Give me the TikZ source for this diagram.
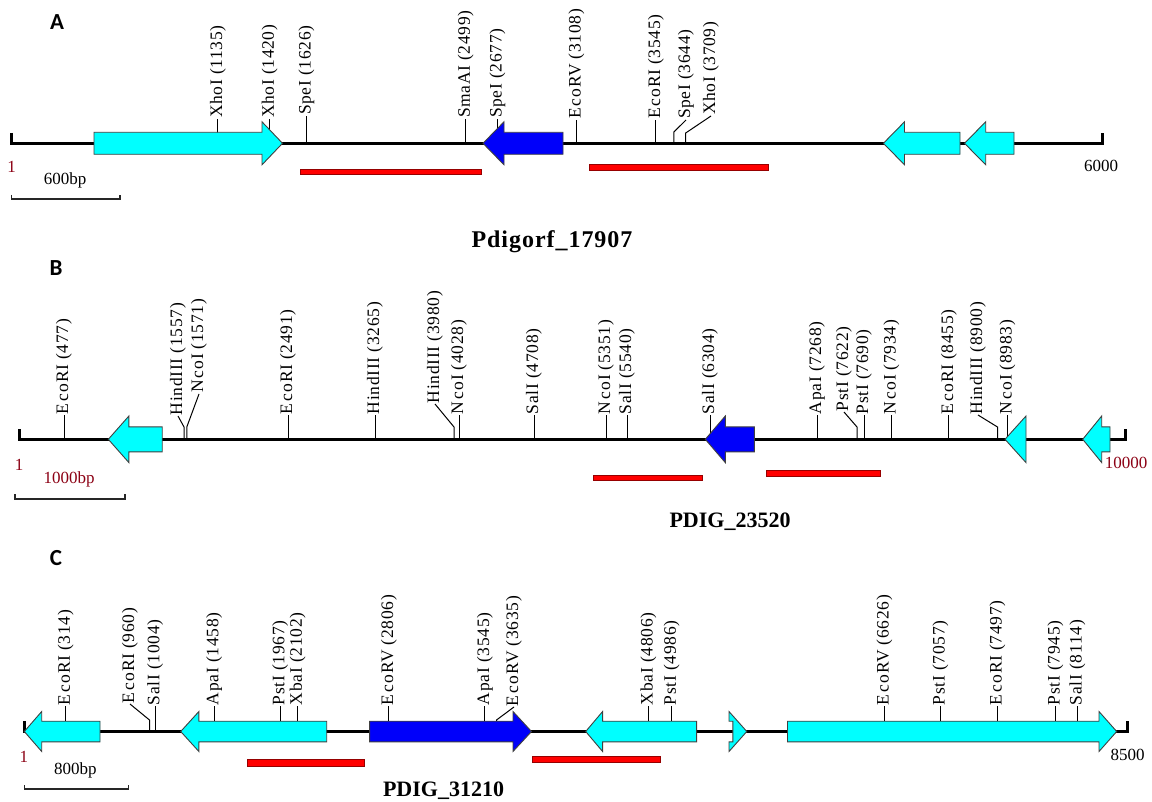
\documentclass[tikz,border=0pt]{standalone}
\usepackage{fontspec}
\setmainfont{Liberation Serif}
\newfontfamily\lbf[LetterSpace=4]{Liberation Serif}
\newfontfamily\ttlf[LetterSpace=4]{Liberation Serif}
\newfontfamily\pfont{Carlito}
\definecolor{gcyan}{RGB}{0,255,255}
\definecolor{gblue}{RGB}{0,0,250}
\definecolor{gred}{RGB}{255,0,0}
\definecolor{redline}{RGB}{150,0,0}
\definecolor{numred}{RGB}{140,0,20}
\newcommand\Eco{E\kern1.6pt c\kern1.6pt o}
\newcommand\Nco{N\kern1.6pt c\kern1.6pt o}
\tikzset{
  lab/.style={rotate=90, anchor=west, inner sep=0.8pt, font=\fontsize{17.5}{17.5}\selectfont\lbf},
  tick/.style={line width=1pt, black},
  backbone/.style={line width=2.6pt, black},
  gene/.style={draw=black!75, line width=0.9pt, line join=miter},
  bar/.style={draw=redline, fill=gred, line width=0.8pt},
  sbar/.style={line width=1.2pt, black!85},
  small/.style={font=\fontsize{17}{17}\selectfont, inner sep=0pt},
  title/.style={font=\fontsize{22}{22}\selectfont\bfseries, inner sep=0pt},
  panel/.style={font=\fontsize{23}{23}\selectfont\pfont\bfseries, inner sep=0pt}
}
\newcommand\geneR[7]{\draw[gene,fill=#1] (#2,{#5-#6}) -- (#3,{#5-#6}) -- (#3,{#5-#7}) -- (#4,#5) -- (#3,{#5+#7}) -- (#3,{#5+#6}) -- (#2,{#5+#6}) -- cycle;}
\newcommand\geneL[7]{\draw[gene,fill=#1] (#2,#5) -- (#3,{#5-#7}) -- (#3,{#5-#6}) -- (#4,{#5-#6}) -- (#4,{#5+#6}) -- (#3,{#5+#6}) -- (#3,{#5+#7}) -- cycle;}
\newcommand\rsite[7]{\node[lab] (#1) at (#5,#6) {#7};
  \draw[tick] (#2,#3) -- (#2,#4) -- (#1.west);}
\newcommand\srs[5]{\rsite{#1}{#2}{#3}{#4}{#2}{#4}{#5}}
\begin{document}
\begin{tikzpicture}[x=1pt,y=-1pt]
\fill[white] (0,0) rectangle (1152,802);
\useasboundingbox (0,0) rectangle (1152,802);

% ---------------- Panel A ----------------
\node[panel] (pA) at (57,22.5) {A};
\draw[backbone] (11.7,133) -- (11.7,143.3) -- (1102.3,143.3) -- (1102.3,133);
\srs{a1}{217.8}{143.3}{119}{XhoI (1135)}
\srs{a2}{269.6}{143.3}{119}{XhoI (1420)}
\srs{a3}{306.5}{143.3}{116}{SpeI (1626)}
\srs{a4}{465.7}{143.3}{119}{SmaAI (2499)}
\srs{a5}{497.5}{143.3}{119}{SpeI (2677)}
\srs{a6}{576.4}{143.3}{120}{\Eco RV (3108)}
\srs{a7}{655.9}{143.3}{120}{\Eco RI (3545)}
\rsite{a8}{673.9}{143.3}{132}{686}{120}{SpeI (3644)}
\rsite{a9}{685.7}{143.3}{133}{711}{116}{XhoI (3709)}
\geneR{gcyan}{94}{262}{282.5}{143.3}{11}{21.5}
\geneL{gblue}{483}{504}{563}{143.3}{11}{21.5}
\geneL{gcyan}{883.4}{904.5}{960}{143.3}{11}{21.5}
\geneL{gcyan}{964.5}{985.7}{1014}{143.3}{11}{21.5}
\draw[bar] (300,169) rectangle (481.5,174.7);
\draw[bar] (589,164.3) rectangle (768.3,170.7);
\node[small, text=numred] (oneA) at (11.5,166.7) {1};
\node[small] (endA) at (1101,165.7) {6000};
\node[small] (sA) at (65,180) {600bp};
\draw[sbar] (11.7,195) -- (11.7,199) -- (120,199) -- (120,195);
\node[title, font=\fontsize{24}{24}\selectfont\bfseries] (tA) at (552,242) {\ttlf Pdigorf\_17907};

% ---------------- Panel B ----------------
\node[panel] (pB) at (56,268) {B};
\draw[backbone] (19.3,429.3) -- (19.3,439.3) -- (1125.7,439.3) -- (1125.7,429.3);
\srs{b1}{64}{439.3}{415}{\Eco RI (477)}
\rsite{b2}{184}{439.3}{427}{178}{416}{HindIII (1557)}
\rsite{b3}{186.8}{439.3}{427}{199}{394}{\Nco I (1571)}
\srs{b4}{288}{439.3}{415}{\Eco RI (2491)}
\srs{b5}{375}{439.3}{415}{HindIII (3265)}
\rsite{b6}{454}{439.3}{427}{435}{404}{HindIII (3980)}
\srs{b7}{459}{439.3}{415}{\Nco I (4028)}
\srs{b8}{534}{439.3}{415}{SalI (4708)}
\srs{b9}{606}{439.3}{415}{\Nco I (5351)}
\srs{b10}{627}{439.3}{415}{SalI (5540)}
\srs{b11}{710}{439.3}{415}{SalI (6304)}
\srs{b12}{817}{439.3}{415}{ApaI (7268)}
\rsite{b13}{857}{439.3}{427}{844}{412}{PstI (7622)}
\srs{b14}{864}{439.3}{415}{PstI (7690)}
\srs{b15}{891.5}{439.3}{415}{\Nco I (7934)}
\srs{b16}{948.8}{439.3}{415}{\Eco RI (8455)}
\rsite{b17}{997.5}{439.3}{427}{978}{415}{HindIII (8900)}
\srs{b18}{1007.5}{439.3}{415}{\Nco I (8983)}
\geneL{gcyan}{108.3}{128.9}{162.2}{439.3}{12.5}{23.3}
\geneL{gblue}{705.3}{725.3}{754.3}{439.3}{12.5}{23.3}
\draw[gene,fill=gcyan] (1005,439.3) -- (1026,416) -- (1026,462.6) -- cycle;
\geneL{gcyan}{1082.7}{1101.7}{1110}{439.3}{12.5}{23.3}
\draw[bar] (593.2,475) rectangle (702.6,480.7);
\draw[bar] (766.8,470) rectangle (880.8,476);
\node[small, text=numred] (oneB) at (19,465) {1};
\node[small, text=numred] (endB) at (1126,463) {10000};
\node[small, text=numred] (sB) at (69,479) {1000bp};
\draw[sbar] (15,494) -- (15,499) -- (125,499) -- (125,494);
\node[title] (tB) at (730,522) {PDIG\_23520};

% ---------------- Panel C ----------------
\node[panel] (pC) at (56,558) {C};
\draw[backbone] (24.3,721) -- (24.3,731.5) -- (1127.7,731.5) -- (1127.7,721);
\srs{c1}{65.7}{731.5}{706}{\Eco RI (314)}
\rsite{c2}{149.5}{731.5}{720}{130}{704}{\Eco RI (960)}
\srs{c3}{155.2}{731.5}{706}{SalI (1004)}
\srs{c4}{214.1}{731.5}{706}{ApaI (1458)}
\srs{c5}{280.1}{731.5}{706}{PstI (1967)}
\srs{c6}{297.6}{731.5}{706}{XbaI (2102)}
\srs{c7}{388.9}{731.5}{706}{\Eco RV (2806)}
\srs{c8}{484.8}{731.5}{706}{ApaI (3545)}
\rsite{c9}{496.5}{731.5}{720}{514}{707}{\Eco RV (3635)}
\srs{c10}{648.3}{731.5}{706}{XbaI (4806)}
\srs{c11}{671.7}{731.5}{706}{PstI (4986)}
\srs{c12}{884.4}{731.5}{706}{\Eco RV (6626)}
\srs{c13}{940.3}{731.5}{706}{PstI (7057)}
\srs{c14}{997.3}{731.5}{706}{\Eco RI (7497)}
\srs{c15}{1055.4}{731.5}{706}{PstI (7945)}
\srs{c16}{1077.3}{731.5}{706}{SalI (8114)}
\geneL{gcyan}{24.3}{41.7}{100}{731.5}{10.3}{20}
\geneL{gcyan}{180.7}{198.9}{326.7}{731.5}{10.3}{20}
\geneR{gblue}{369.6}{513}{531.5}{731.5}{10.3}{20}
\geneL{gcyan}{585.7}{602.6}{696.6}{731.5}{10.3}{20}
\geneR{gcyan}{732.8}{729}{746.8}{731.5}{10.3}{20}
\geneR{gcyan}{787.5}{1099}{1116.7}{731.5}{10.3}{20}
\draw[bar] (247.4,759.3) rectangle (364.8,766);
\draw[bar] (532.6,756.7) rectangle (660,762.7);
\node[small, text=numred] (oneC) at (24,756.7) {1};
\node[small] (endC) at (1127.5,755) {8500};
\node[small] (sC) at (75.3,770) {800bp};
\draw[sbar] (24.3,785) -- (24.3,789) -- (128.3,789) -- (128.3,785);
\node[title] (tC) at (443.5,791) {PDIG\_31210};
\end{tikzpicture}
\end{document}
